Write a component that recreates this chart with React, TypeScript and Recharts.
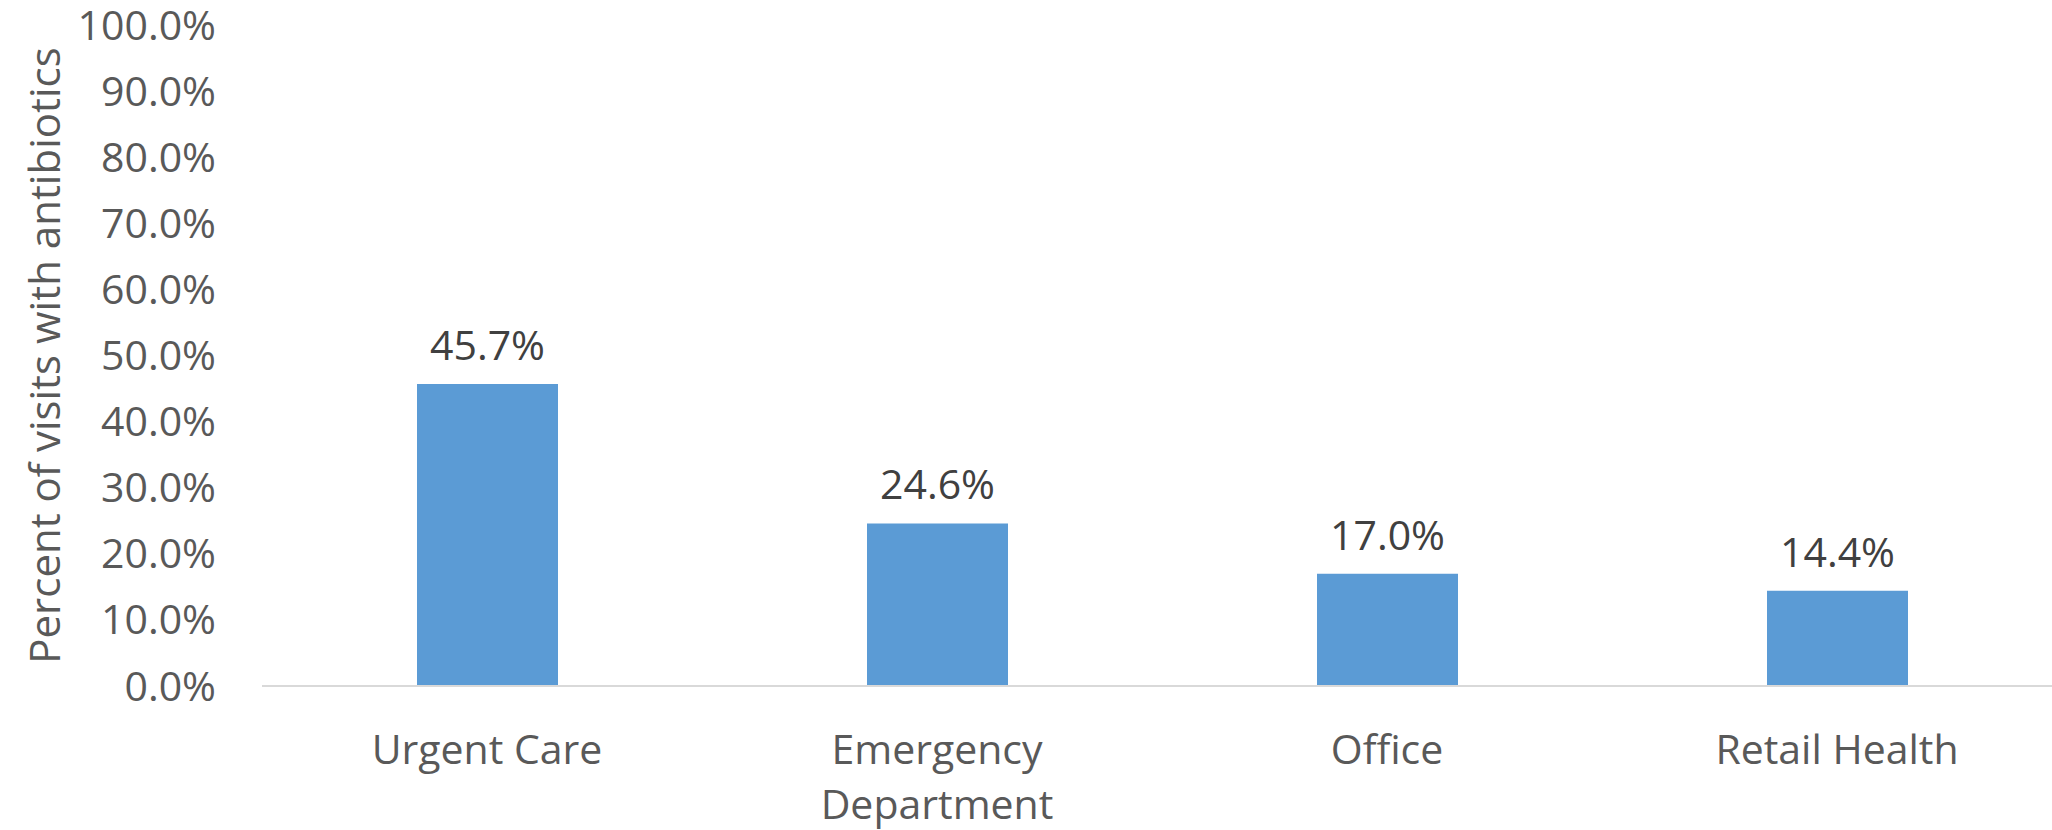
import React from "react";
import { BarChart, Bar, XAxis, YAxis, LabelList } from "recharts";

const categories = ["Urgent Care", "Emergency Department", "Office", "Retail Health"];
const values = [0.457, 0.246, 0.17, 0.144];
const yTicks = [0, 0.1, 0.2, 0.3, 0.4, 0.5, 0.6, 0.7, 0.8, 0.9, 1.0];
const tickLines: Record<string, string[]> = {
  "Emergency Department": ["Emergency", "Department"],
};

const data = categories.map((c, i) => ({ name: c, value: values[i] }));

const FONT = "'Open Sans', sans-serif";
const fmt = (v: number) => (v * 100).toFixed(1) + "%";

const XTick = (props: any) => {
  const { x, y, payload } = props;
  const lines = tickLines[payload.value] || [payload.value];
  return (
    <g>
      {lines.map((l: string, i: number) => (
        <text
          key={i}
          x={x}
          y={y + 70 + i * 55}
          textAnchor="middle"
          fill="#595959"
          fontSize={41}
          fontFamily={FONT}
        >
          {l}
        </text>
      ))}
    </g>
  );
};

const YTitle = (props: any) => {
  const vb = props.viewBox;
  const cx = vb.x + 43;
  const cy = vb.y + vb.height / 2;
  return (
    <text
      x={cx}
      y={cy}
      transform={`rotate(-90, ${cx}, ${cy})`}
      textAnchor="middle"
      dominantBaseline="central"
      fill="#595959"
      fontSize={42}
      fontFamily={FONT}
    >
      Percent of visits with antibiotics
    </text>
  );
};

export default function App() {
  return (
    <div style={{ position: "absolute", left: 0, top: 0, width: 2052, height: 830, overflow: "hidden", background: "#fff" }}>
      <BarChart
        width={2062}
        height={830}
        data={data}
        margin={{ top: 25, right: 0, bottom: 0, left: 0 }}
      >
        <XAxis
          dataKey="name"
          height={144}
          axisLine={{ stroke: "#D9D9D9", strokeWidth: 2 }}
          tickLine={false}
          tick={<XTick />}
          interval={0}
        />
        <YAxis
          width={262}
          domain={[0, 1]}
          ticks={yTicks}
          tickFormatter={fmt}
          axisLine={false}
          tickLine={false}
          tickSize={0}
          tickMargin={46}
          tick={{ fill: "#595959", fontSize: 41, fontFamily: FONT }}
          label={<YTitle />}
        />
        <Bar dataKey="value" fill="#5B9BD5" barSize={141} isAnimationActive={false}>
          <LabelList
            dataKey="value"
            position="top"
            offset={24}
            formatter={(v: any) => fmt(Number(v))}
            fill="#404040"
            fontSize={41}
            fontFamily={FONT}
          />
        </Bar>
      </BarChart>
    </div>
  );
}
